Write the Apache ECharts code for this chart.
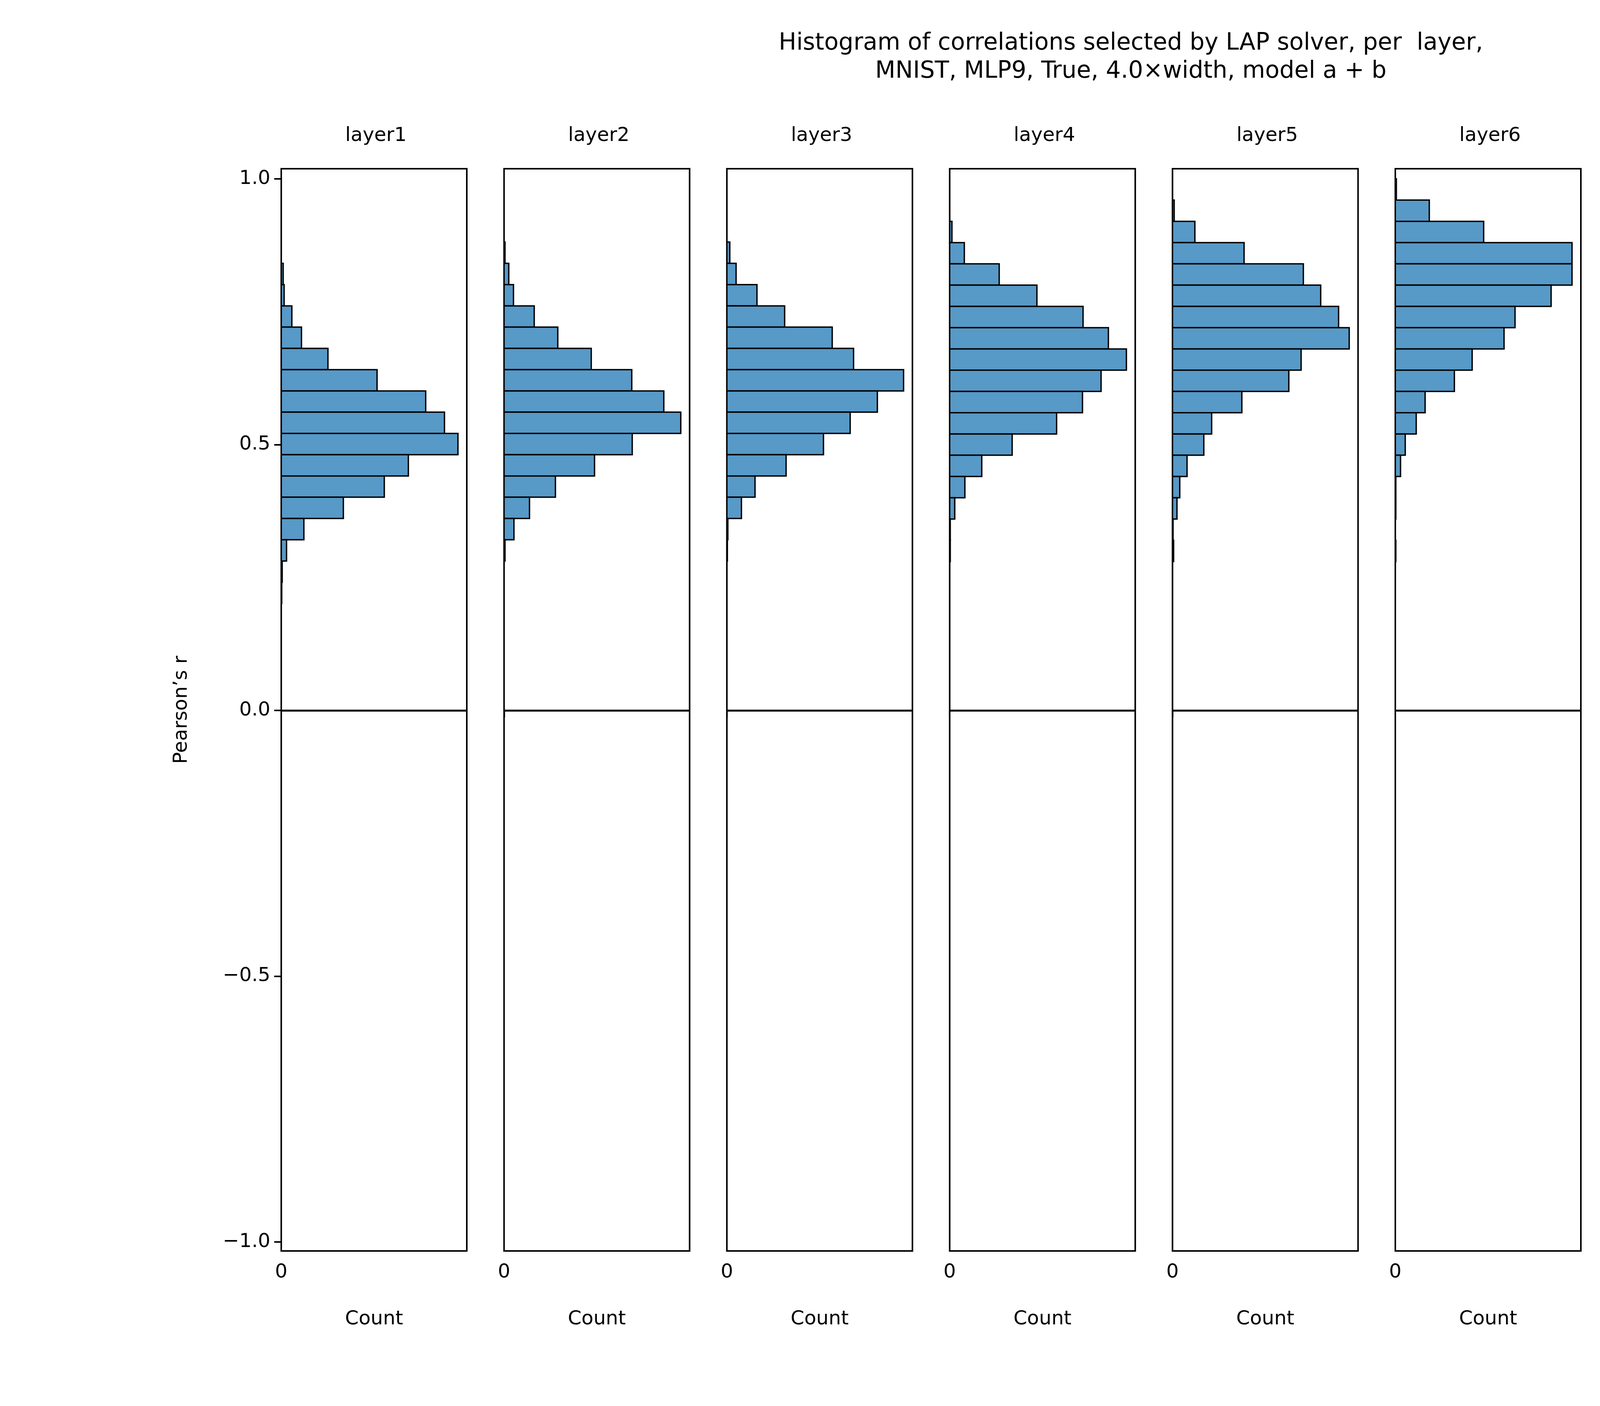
<!DOCTYPE html>
<html><head><meta charset="utf-8">
<script src="https://cdn.jsdelivr.net/npm/echarts@6/dist/echarts.min.js"></script>
<style>html,body{margin:0;padding:0;background:#fff}#c{width:5760px;height:3600px}</style>
</head><body><div id="c"></div>
<script>
const layerNames = ['layer1','layer2','layer3','layer4','layer5','layer6','layer7','layer8'];
// top edge of the highest bin per layer, and bin width (Pearson's r)
const binTop = [0.841, 0.881, 0.881, 0.920, 0.960, 1.0, 1.0, 1.0];
const binWidth = 0.04;
// counts per bin, from top bin downwards
const counts1 = [4, 6, 22, 42, 97, 199, 300, 339, 367, 264, 214, 129, 47, 11, 2, 1];
const counts2 = [2, 10, 20, 64, 114, 185, 271, 339, 375, 272, 192, 109, 54, 21, 2];
const counts3 = [6, 19, 62, 119, 217, 261, 364, 310, 254, 199, 122, 58, 30, 2, 1];
const counts4 = [4, 26, 88, 155, 237, 282, 314, 269, 236, 190, 111, 57, 27, 9, 1, 1];
const counts5 = [3, 40, 128, 234, 265, 297, 316, 230, 208, 124, 70, 56, 26, 13, 8, 1, 2];
const counts6 = [2, 65, 169, 338, 338, 298, 229, 208, 147, 113, 57, 40, 19, 10, 1, 1, 0, 1];
const counts7 = [42, 320, 431, 405, 303, 188, 146, 82, 51, 32, 11, 9, 4, 2];
const counts8 = [93, 325, 455, 406, 300, 181, 138, 60, 37, 13, 7, 1];
const allCounts = [counts1, counts2, counts3, counts4, counts5, counts6, counts7, counts8];
const yTicks = [-1, -0.5, 0, 0.5, 1];
const xTicks = [0, 250];
const titleLines = ['Histogram of correlations selected by LAP solver, per  layer,', 'MNIST, MLP9, True, 4.0\u00d7width, model a + b'];

(function () {
const FONT = 'DejaVu Sans';
const left0 = 720, step = 570.4, pw = 475, gTop = 432, gBottom = 3600 - 3203;
const grids = [], xAxes = [], yAxes = [], series = [], titles = [];
titles.push({text: titleLines.join('\n'), left: 2890, top: 70, textAlign: 'center',
  textStyle: {fontFamily: FONT, fontSize: 60, fontWeight: 'normal', color: '#000', lineHeight: 72}});
layerNames.forEach((name, i) => {
  const L = left0 + step * i;
  grids.push({left: L, width: pw, top: gTop, bottom: gBottom, show: true, borderColor: '#000', borderWidth: 4, backgroundColor: '#fff'});
  const mx = Math.max(...allCounts[i]) * 1.05;
  xAxes.push({type: 'value', gridIndex: i, min: 0, max: mx, interval: 250,
    name: 'Count', nameLocation: 'middle', nameGap: 150,
    nameTextStyle: {fontFamily: FONT, fontSize: 50, color: '#000'},
    axisLine: {show: false}, splitLine: {show: false},
    axisTick: {show: true, length: 18, lineStyle: {color: '#000', width: 4}, customValues: xTicks},
    axisLabel: {fontFamily: FONT, fontSize: 50, color: '#000', margin: 30, customValues: xTicks, showMaxLabel: false}});
  yAxes.push({type: 'value', gridIndex: i, min: -1.017, max: 1.019,
    name: i === 0 ? 'Pearson\u2019s r' : '', nameLocation: 'middle', nameGap: 230, nameRotate: 90,
    nameTextStyle: {fontFamily: FONT, fontSize: 50, color: '#000'},
    axisLine: {show: false}, splitLine: {show: false},
    axisTick: {show: i === 0, length: 18, lineStyle: {color: '#000', width: 4}, customValues: yTicks},
    axisLabel: {show: i === 0, fontFamily: FONT, fontSize: 50, color: '#000', margin: 28, customValues: yTicks,
      formatter: v => (v < 0 ? '\u2212' : '') + Math.abs(v).toFixed(1)}});
  titles.push({text: name, left: L + pw / 2, top: 318, textAlign: 'center',
    textStyle: {fontFamily: FONT, fontSize: 50, fontWeight: 'normal', color: '#000'}});
  const data = allCounts[i].map((c, k) => {
    const hi = binTop[i] - k * binWidth;
    return [hi - binWidth, hi, c];
  }).filter(d => d[2] > 0);
  series.push({type: 'custom', xAxisIndex: i, yAxisIndex: i, data: data, clip: true,
    renderItem: (params, api) => {
      const p0 = api.coord([0, api.value(0)]);
      const p1 = api.coord([api.value(2), api.value(1)]);
      return {type: 'rect', shape: {x: p0[0], y: p1[1], width: p1[0] - p0[0], height: p0[1] - p1[1]},
        style: {fill: '#5799c7', stroke: '#000', lineWidth: 3.5}};
    },
    markLine: {silent: true, symbol: 'none', label: {show: false}, animation: false,
      lineStyle: {color: '#000', width: 5, type: 'solid'}, data: [{yAxis: 0}]}
  });
});
const chart = echarts.init(document.getElementById('c'), null, {renderer: 'canvas'});
chart.setOption({animation: false, backgroundColor: '#fff', title: titles, grid: grids, xAxis: xAxes, yAxis: yAxes, series: series});
})();
</script></body></html>
